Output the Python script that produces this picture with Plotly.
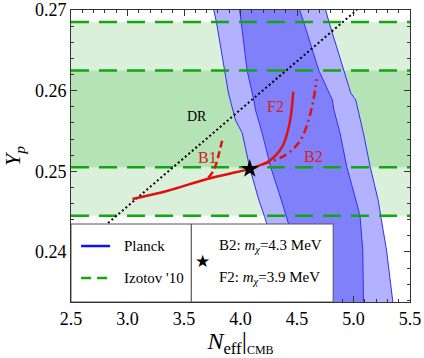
import plotly.graph_objects as go

# ---------------- data ----------------
x_range = [2.5, 5.5]
y_range = [0.2338, 0.27]

# Izotov '10 helium abundance bands
izotov_1s = [0.2505, 0.2625]
izotov_2s = [0.2445, 0.2685]

# Planck contours (boundaries)
outer_left_x = [3.745, 3.763, 3.787, 3.828, 3.860, 3.893, 3.955, 4.015, 4.082, 4.162, 4.213, 4.235, 4.30]
outer_left_y = [0.272, 0.270, 0.26851, 0.26504, 0.26248, 0.25971, 0.25636, 0.25475, 0.25041, 0.24645, 0.24438, 0.24335, 0.232]
outer_right_x = [4.73, 4.754, 4.783, 4.857, 4.916, 4.976, 5.020, 5.088, 5.147, 5.218, 5.242, 5.292, 5.346, 5.36]
outer_right_y = [0.272, 0.270, 0.26851, 0.26504, 0.26248, 0.25971, 0.25884, 0.25472, 0.25058, 0.24645, 0.24438, 0.24025, 0.23405, 0.232]
inner_left_x = [3.975, 3.993, 4.059, 4.118, 4.133, 4.192, 4.266, 4.361, 4.428, 4.50]
inner_left_y = [0.272, 0.270, 0.26248, 0.25884, 0.25760, 0.25472, 0.25058, 0.24645, 0.24335, 0.232]
inner_right_x = [4.50, 4.523, 4.559, 4.636, 4.694, 4.813, 4.827, 4.881, 4.940, 5.033, 5.058, 5.082, 5.088, 5.09]
inner_right_y = [0.272, 0.270, 0.26851, 0.26504, 0.26248, 0.25884, 0.25760, 0.25472, 0.25058, 0.24583, 0.24438, 0.24025, 0.23405, 0.232]

# dark radiation line
dr_x = [2.828, 5.03]
dr_y = [0.2436, 0.27]

# main trajectory (solid) through the star into F2
main_x = [3.044, 3.349, 3.704, 3.911, 4.082, 4.266, 4.370, 4.428, 4.452, 4.467]
main_y = [0.24657, 0.24756, 0.24905, 0.24973, 0.2503, 0.25141, 0.25305, 0.25553, 0.2576, 0.25987]
# B1 branch (dashed)
b1_x = [3.716, 3.760, 3.787, 3.813, 3.843]
b1_y = [0.24924, 0.25004, 0.25103, 0.2524, 0.25413]
# B2 branch (dash-dot)
b2_x = [4.195, 4.399, 4.532, 4.606, 4.645, 4.674]
b2_y = [0.25085, 0.25203, 0.25388, 0.25657, 0.25884, 0.26141]
# Planck best fit star
star_x = [4.082]
star_y = [0.2503]

# labels
curve_labels = ["DR", "B1", "F2", "B2"]
label_x = [3.615, 3.709, 4.31, 4.65]
label_y = [0.25677, 0.25174, 0.2580, 0.2518]
label_colors = ["black", "#d42020", "#d42020", "#d42020"]

x_ticks = [2.5, 3.0, 3.5, 4.0, 4.5, 5.0, 5.5]
y_ticks = [0.24, 0.25, 0.26, 0.27]

# ---------------- styles ----------------
GREEN_LIGHT = "#daf0da"
GREEN_DARK = "#b6e3b6"
GREEN_LINE = "#10a810"
BLUE_LIGHT = "#b2b2ff"
BLUE_DARK = "#8080fa"
BLUE_EDGE = "#3030f0"
RED = "#e01010"
FONT = "Liberation Serif, Times New Roman, serif"

fig = go.Figure()

def band(lo, hi, color):
    fig.add_trace(go.Scatter(
        x=[x_range[0], x_range[1], x_range[1], x_range[0], x_range[0]],
        y=[lo, lo, hi, hi, lo], fill="toself", fillcolor=color,
        line=dict(width=0), mode="lines", hoverinfo="skip", showlegend=False))

band(izotov_2s[0], izotov_2s[1], GREEN_LIGHT)
band(izotov_1s[0], izotov_1s[1], GREEN_DARK)

def contour(lx, ly, rx, ry, color):
    xs = list(lx) + list(rx)[::-1] + [lx[0]]
    ys = list(ly) + list(ry)[::-1] + [ly[0]]
    fig.add_trace(go.Scatter(x=xs, y=ys, fill="toself", fillcolor=color,
                             line=dict(width=0), mode="lines",
                             hoverinfo="skip", showlegend=False))

contour(outer_left_x, outer_left_y, outer_right_x, outer_right_y, BLUE_LIGHT)
contour(inner_left_x, inner_left_y, inner_right_x, inner_right_y, BLUE_DARK)
for bx, by in [(outer_left_x, outer_left_y), (outer_right_x, outer_right_y),
               (inner_left_x, inner_left_y), (inner_right_x, inner_right_y)]:
    fig.add_trace(go.Scatter(x=bx, y=by, mode="lines", line=dict(color=BLUE_EDGE, width=1),
                             hoverinfo="skip", showlegend=False))

for v in izotov_1s + izotov_2s:
    fig.add_trace(go.Scatter(x=x_range, y=[v, v], mode="lines",
                             line=dict(color=GREEN_LINE, width=2.5, dash="18px,10px"),
                             hoverinfo="skip", showlegend=False))

fig.add_trace(go.Scatter(x=dr_x, y=dr_y, mode="lines",
                         line=dict(color="black", width=2, dash="2px,2.6px"),
                         hoverinfo="skip", showlegend=False))

fig.add_trace(go.Scatter(x=main_x, y=main_y, mode="lines", line_shape="spline",
                         line=dict(color=RED, width=2.5), hoverinfo="skip", showlegend=False))
fig.add_trace(go.Scatter(x=b1_x, y=b1_y, mode="lines", line_shape="spline",
                         line=dict(color=RED, width=2.5, dash="7px,4px"), hoverinfo="skip", showlegend=False))
fig.add_trace(go.Scatter(x=b2_x, y=b2_y, mode="lines", line_shape="spline",
                         line=dict(color=RED, width=2.5, dash="8px,4px,2px,4px"), hoverinfo="skip", showlegend=False))
fig.add_trace(go.Scatter(x=star_x, y=star_y, mode="markers",
                         marker=dict(symbol="star", size=14, color="black"),
                         hoverinfo="skip", showlegend=False))

annotations = []
for t, lx, ly, c in zip(curve_labels, label_x, label_y, label_colors):
    annotations.append(dict(x=lx, y=ly, text=t, showarrow=False,
                            font=dict(family=FONT, size=16 if c != "black" else 14, color=c)))

# direction arrows on the trajectory (taken from curve points)
for (x1, y1, x0, y0) in [(main_x[2], main_y[2], main_x[3], main_y[3]),
                         (main_x[5], main_y[5], main_x[6], main_y[6])]:
    annotations.append(dict(x=x1 - 0.02, y=y1 - 0.00005, ax=x0, ay=y0, xref="x", yref="y",
                            axref="x", ayref="y", text="", showarrow=True,
                            arrowhead=2, arrowsize=1, arrowwidth=1.5, arrowcolor=RED,
                            standoff=0, startstandoff=60))

# ----- legend boxes -----
box_top = 0.24347
box_mid = 3.565
box_right = 4.82
shapes = [
    dict(type="rect", xref="x", yref="y", x0=x_range[0], x1=box_mid, y0=y_range[0], y1=box_top,
         fillcolor="white", line=dict(color="#555555", width=1), layer="above"),
    dict(type="rect", xref="x", yref="y", x0=box_mid, x1=box_right, y0=y_range[0], y1=box_top,
         fillcolor="white", line=dict(color="#555555", width=1), layer="above"),
    dict(type="line", xref="x", yref="y", x0=2.589, x1=2.846, y0=0.24074, y1=0.24074,
         line=dict(color="#1010ff", width=2.5), layer="above"),
    dict(type="line", xref="x", yref="y", x0=2.589, x1=2.846, y0=0.23678, y1=0.23678,
         line=dict(color=GREEN_LINE, width=2.5, dash="10px,6px"), layer="above"),
]
legend_texts = [
    ("Planck", 2.953, 0.24074),
    ("Izotov '10", 2.953, 0.23678),
    ("B2: <i>m</i><sub><i>χ</i></sub>=4.3 MeV", 3.793, 0.24074),
    ("F2: <i>m</i><sub><i>χ</i></sub>=3.9 MeV", 3.793, 0.23678),
]
for t, lx, ly in legend_texts:
    annotations.append(dict(x=lx, y=ly, text=t, showarrow=False, xanchor="left",
                            font=dict(family=FONT, size=15, color="black")))
annotations.append(dict(x=3.66, y=0.2389, text="★", showarrow=False,
                        font=dict(family="DejaVu Sans", size=17, color="black")))

axis_common = dict(showgrid=False, zeroline=False, showline=True, linecolor="#333333",
                   linewidth=1, mirror="allticks", ticks="inside", ticklen=6,
                   tickcolor="#333333", ticklabeloverflow="allow", automargin=False,
                   tickfont=dict(family=FONT, size=18, color="black"))

fig.update_layout(
    width=424, height=358,
    margin=dict(l=71, r=14, t=10, b=56),
    paper_bgcolor="white", plot_bgcolor="white",
    shapes=shapes, annotations=annotations,
    xaxis=dict(range=x_range, tickvals=x_ticks, ticktext=[f"{v:.1f}" for v in x_ticks],
               minor=dict(dtick=0.1, ticks="inside", ticklen=3, tickcolor="#333333"),
               title=dict(text="<i>N</i><sub>eff</sub><span style='font-size:26px'>|</span><sub><span style='font-size:12px'>CMB</span></sub>",
                          font=dict(family=FONT, size=24, color="black"), standoff=9),
               **axis_common),
    yaxis=dict(range=y_range, tickvals=y_ticks, ticktext=[f"{v:.2f}" for v in y_ticks],
               minor=dict(dtick=0.002, ticks="inside", ticklen=3, tickcolor="#333333"),
               title=dict(text="<i>Y</i><sub><i>p</i></sub>",
                          font=dict(family=FONT, size=22, color="black"), standoff=10),
               **axis_common),
)

fig.write_html("out.html", config={"displayModeBar": False},
               post_script="document.body.style.margin='0';document.body.style.overflow='hidden';")
